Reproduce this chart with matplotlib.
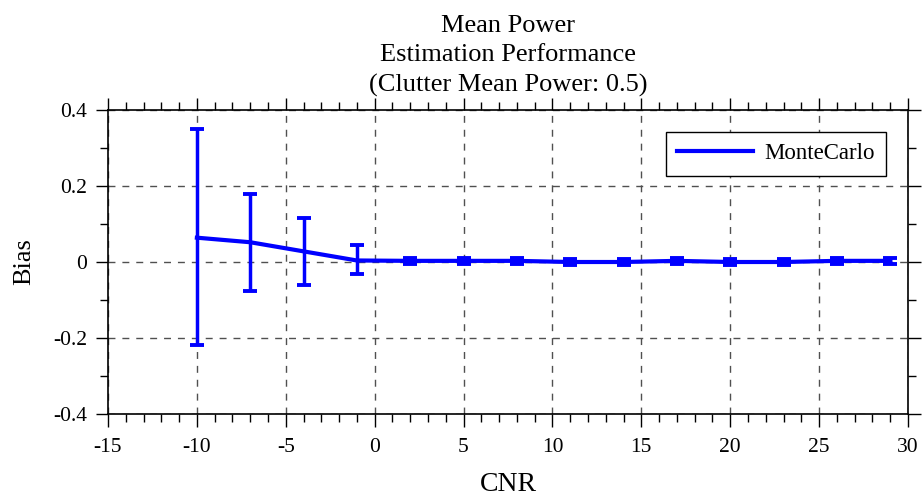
import matplotlib
matplotlib.use('Agg')
import matplotlib.pyplot as plt
from matplotlib.ticker import MultipleLocator
from matplotlib.lines import Line2D

plt.rcParams['font.family'] = ['Liberation Serif', 'DejaVu Serif']

cnr = [-10, -7, -4, -1, 2, 5, 8, 11, 14, 17, 20, 23, 26, 29]
bias = [0.064, 0.052, 0.028, 0.004, 0.003, 0.003, 0.003, 0.0, 0.0, 0.003, 0.0, 0.0, 0.003, 0.003]
err_low = [0.283, 0.128, 0.089, 0.035, 0.007, 0.007, 0.007, 0.007, 0.007, 0.007, 0.007, 0.007, 0.007, 0.007]
err_high = [0.286, 0.128, 0.088, 0.040, 0.007, 0.007, 0.007, 0.007, 0.007, 0.007, 0.007, 0.007, 0.007, 0.007]

title_lines = ['Mean Power', 'Estimation Performance', '(Clutter Mean Power: 0.5)']
x_ticks = [-15, -10, -5, 0, 5, 10, 15, 20, 25, 30]
y_ticks = [-0.4, -0.2, 0, 0.2, 0.4]
y_labels = ['-0.4', '-0.2', '0', '0.2', '0.4']

fig = plt.figure(figsize=(9.22, 5), dpi=100)
ax = fig.add_axes([108 / 922, 1 - 414 / 500, 800 / 922, 304 / 500])

ax.errorbar(cnr, bias, yerr=[err_low, err_high], color='#0000ff', lw=3,
            elinewidth=2.5, capsize=4.8, capthick=2.8, zorder=3)

ax.set_xlim(-15, 30)
ax.set_ylim(-0.4, 0.4)
ax.set_xticks(x_ticks)
ax.set_xticklabels([str(t) for t in x_ticks])
ax.set_yticks(y_ticks)
ax.set_yticklabels(y_labels)
ax.xaxis.set_minor_locator(MultipleLocator(1))
ax.yaxis.set_minor_locator(MultipleLocator(0.1))
ax.tick_params(which='both', direction='out', top=True, right=True, labelsize=15.5, color='black')
ax.tick_params(which='major', length=9, width=1)
ax.tick_params(which='minor', length=6, width=1)
ax.tick_params(axis='x', pad=8)
ax.tick_params(axis='y', pad=6)

ax.grid(True, which='major', linestyle=(0, (5, 5)), color='#505050', lw=1)
for s in ax.spines.values():
    s.set_linewidth(1.2)

ax.set_title('\n'.join(title_lines), fontsize=19, linespacing=1.45, pad=13)
ax.set_xlabel('CNR', fontsize=20, labelpad=11)
ax.set_ylabel('Bias', fontsize=19, labelpad=13)

handle = Line2D([], [], color='#0000ff', lw=3)
leg = ax.legend([handle], ['MonteCarlo'], loc='upper right', bbox_to_anchor=(0.9725, 0.928),
                borderaxespad=0, fontsize=16.5, fancybox=False, edgecolor='black',
                framealpha=1, handlelength=3.3, borderpad=0.5, handletextpad=0.5)
leg.get_frame().set_linewidth(1)

fig.savefig('out.png', dpi=100)
